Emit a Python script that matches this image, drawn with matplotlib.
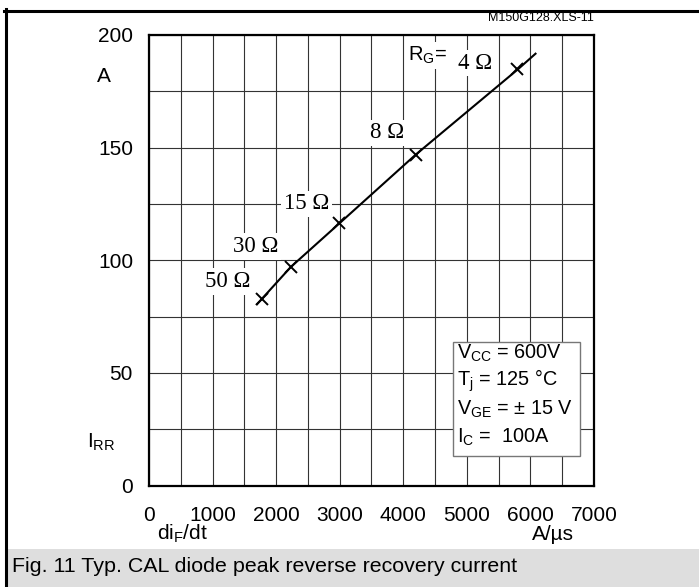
import matplotlib
matplotlib.use('Agg')
import matplotlib.pyplot as plt
from matplotlib.lines import Line2D
from matplotlib.patches import Rectangle
from matplotlib.ticker import MultipleLocator

plt.rcParams['font.family'] = ['Liberation Sans', 'DejaVu Sans']
plt.rcParams['mathtext.default'] = 'regular'

# curve di_F/dt (A/us) vs I_RR (A)
didt = [1700, 1780, 2230, 3000, 4200, 5800, 6080]
irr = [80.5, 83, 97, 116.5, 147, 184.7, 191.7]

# marked gate resistor points
rg_x = [1780, 2230, 2990, 4200, 5790]
rg_y = [83, 96.8, 116.5, 146.8, 184.7]
rg_labels = ['50 Ω', '30 Ω', '15 Ω', '8 Ω', '4 Ω']
label_x = [1240, 1680, 2480, 3750, 5130]
label_y = [90.5, 106, 125, 156.5, 187.5]

x_ticks = [0, 1000, 2000, 3000, 4000, 5000, 6000, 7000]
y_ticks = [0, 50, 100, 150, 200]

cond_lines = ['V$_{CC}$ = 600V', 'T$_{j}$ = 125 °C', 'V$_{GE}$ = ± 15 V', 'I$_{C}$ =  100A']

W, H = 699, 587
fig = plt.figure(figsize=(W / 100, H / 100), dpi=100)

def fx(px):
    return px / W

def fy(py):
    return 1 - py / H

ax = fig.add_axes([fx(149), fy(485.5), fx(594) - fx(149), fy(35) - fy(485.5)])
ax.set_xlim(0, 7000)
ax.set_ylim(0, 200)
ax.xaxis.set_major_locator(MultipleLocator(1000))
ax.xaxis.set_minor_locator(MultipleLocator(500))
ax.yaxis.set_major_locator(MultipleLocator(50))
ax.yaxis.set_minor_locator(MultipleLocator(25))
ax.set_xticks(x_ticks, [str(v) for v in x_ticks])
ax.set_yticks(y_ticks, [str(v) for v in y_ticks])
ax.tick_params(which='both', length=0)
ax.tick_params(axis='x', pad=14.5, labelsize=15)
ax.tick_params(axis='y', pad=11.5, labelsize=15)
ax.grid(which='both', color='#333333', linewidth=0.8)
for s in ax.spines.values():
    s.set_linewidth(1.6)
ax.set_axisbelow(True)

ax.plot(didt, irr, color='black', linewidth=1.5, zorder=3)
ax.plot(rg_x, rg_y, linestyle='none', marker='x', markersize=9,
        markeredgewidth=1.4, color='black', zorder=4)

for lx, ly, lab in zip(label_x, label_y, rg_labels):
    ax.text(lx, ly, lab, family='Liberation Serif', fontsize=16.5,
            ha='center', va='center', zorder=5,
            bbox=dict(facecolor='white', edgecolor='none', pad=2))
ax.text(4380, 191, 'R$_{G}$=', fontsize=14.5, ha='center', va='center', zorder=5,
        bbox=dict(facecolor='white', edgecolor='none', pad=2))

# condition box
box = Rectangle((fx(453), fy(456)), fx(580) - fx(453), fy(342) - fy(456),
                transform=fig.transFigure, facecolor='white',
                edgecolor='#777777', linewidth=1.0, zorder=6)
fig.add_artist(box)
for i, t in enumerate(cond_lines):
    fig.text(fx(457), fy(353 + i * 28), t, fontsize=14.3, ha='left', va='center', zorder=7)

# axis captions
fig.text(fx(104), fy(76), 'A', fontsize=15, ha='center', va='center')
fig.text(fx(101), fy(442), 'I$_{RR}$', fontsize=15, ha='center', va='center')
fig.text(fx(183), fy(534), 'di$_{F}$/dt', fontsize=15, ha='center', va='center')
fig.text(fx(553), fy(535), 'A/µs', fontsize=15, ha='center', va='center')
fig.text(fx(594), fy(18), 'M150G128.XLS-11', fontsize=9, ha='right', va='center')

# frame and caption band
fig.add_artist(Rectangle((fx(7), 0), 1 - fx(7), fy(549), transform=fig.transFigure,
                         facecolor='#dedede', edgecolor='none'))
fig.add_artist(Line2D([fx(4), 1], [fy(10.5), fy(10.5)], transform=fig.transFigure,
                      color='black', linewidth=2.2))
fig.add_artist(Line2D([fx(5.5), fx(5.5)], [0, fy(9)], transform=fig.transFigure,
                      color='black', linewidth=2.2))
fig.text(fx(12), fy(566), 'Fig. 11 Typ. CAL diode peak reverse recovery current',
         fontsize=15.4, ha='left', va='center')

fig.savefig('out.png', dpi=100)
